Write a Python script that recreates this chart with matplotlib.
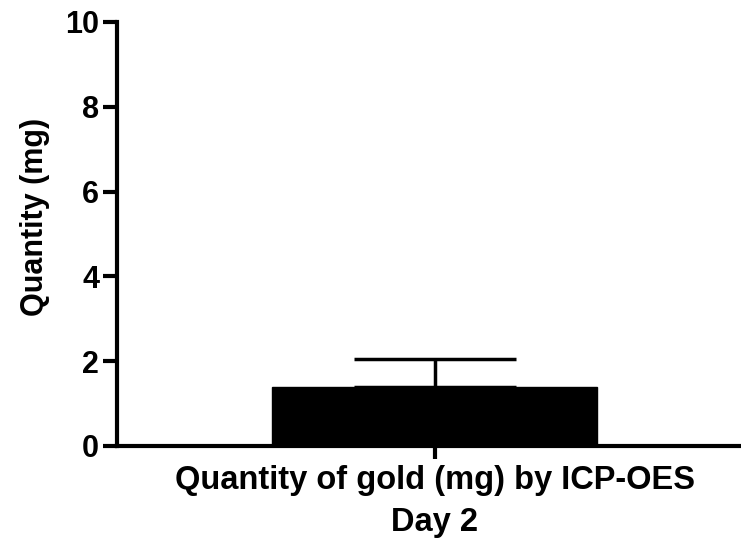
import matplotlib.pyplot as plt

plt.rcParams['font.family'] = ['Liberation Sans', 'DejaVu Sans']
plt.rcParams['font.weight'] = 'bold'

# data
groups = ['Quantity of gold (mg) by ICP-OES\nDay 2']
means = [1.4]
errors = [0.65]

fig = plt.figure(figsize=(7.41, 5.45), dpi=100)
ax = fig.add_axes([0.158, 0.1817, 0.842, 0.778])

ax.bar(range(len(groups)), means, width=1.0, color='black', edgecolor='black')
ax.errorbar(range(len(groups)), means, yerr=[[0] * len(errors), errors],
            fmt='none', ecolor='black', elinewidth=2.5, capsize=58, capthick=2.5)

ax.set_xlim(-0.977, 0.943)
ax.set_ylim(0, 10)
ax.set_yticks([0, 2, 4, 6, 8, 10])
ax.set_xticks(range(len(groups)))
ax.set_xticklabels(groups, fontsize=23.5, fontweight='bold', linespacing=1.45)

for side in ['top', 'right']:
    ax.spines[side].set_visible(False)
for side in ['left', 'bottom']:
    ax.spines[side].set_linewidth(3)

ax.tick_params(axis='y', width=3, length=10, labelsize=22, pad=3)
ax.tick_params(axis='x', width=3, length=9, pad=5)

ax.set_ylabel('Quantity (mg)', fontsize=22, fontweight='bold')
ax.yaxis.set_label_coords(-0.107, 0.54)

fig.savefig('out.png', dpi=100)
